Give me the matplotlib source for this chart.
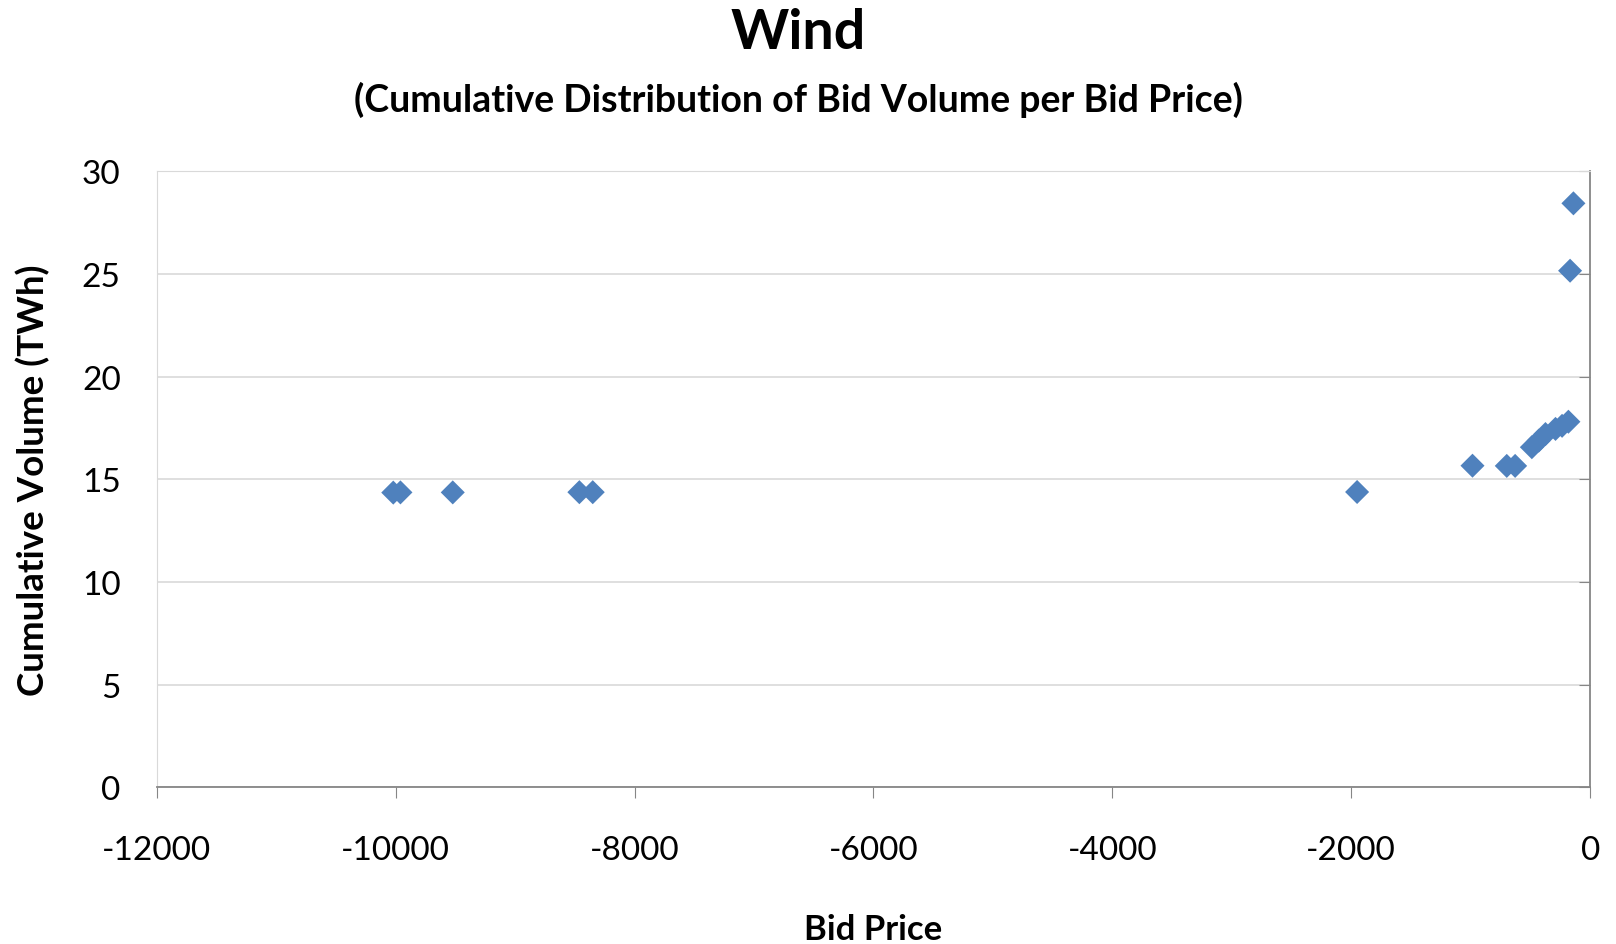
import matplotlib.pyplot as plt

plt.rcParams['font.family'] = ['Lato', 'DejaVu Sans']
plt.rcParams['axes.unicode_minus'] = False

# bid price vs cumulative volume (TWh)
bid_price = [-10020, -9960, -9522, -8462, -8350, -1951, -985, -698, -628,
             -488, -430, -374, -290, -235, -182, -168, -140]
cum_volume = [14.35, 14.36, 14.36, 14.37, 14.37, 14.38, 15.66, 15.65, 15.65,
              16.56, 16.88, 17.2, 17.45, 17.6, 17.8, 25.15, 28.43]

x_ticks = [-12000, -10000, -8000, -6000, -4000, -2000, 0]
y_ticks = [0, 5, 10, 15, 20, 25, 30]

fig = plt.figure(figsize=(16.16, 9.45), dpi=100)
ax = fig.add_axes([0.097, 0.1657, 0.887, 0.6522])

ax.scatter(bid_price, cum_volume, marker='D', s=150, color='#4f81bd',
           edgecolors='none', zorder=3)

ax.set_xlim(-12000, 0)
ax.set_ylim(0, 30)
ax.set_xticks(x_ticks)
ax.set_yticks(y_ticks)
ax.grid(axis='y', color='#d9d9d9', linewidth=1.2)
ax.set_axisbelow(True)

for side in ['left', 'top']:
    ax.spines[side].set_color('#d9d9d9')
for side in ['right', 'bottom']:
    ax.spines[side].set_color('#868686')
    ax.spines[side].set_linewidth(1.3)

ax.tick_params(axis='y', left=False, right=True, labelleft=True, labelright=False,
               direction='in', length=8, color='#868686', labelsize=24, pad=26)
ax.tick_params(axis='x', direction='out', length=8, color='#868686',
               labelsize=24, pad=26)

ax.set_xlabel('Bid Price', fontsize=25, fontweight='bold', labelpad=35)
ax.set_ylabel('Cumulative Volume (TWh)', fontsize=26.5, fontweight='bold', labelpad=23)

fig.text(0.494, 0.965, 'Wind', ha='center', va='center', fontsize=40, fontweight='bold')
fig.text(0.494, 0.894, '(Cumulative Distribution of Bid Volume per Bid Price)',
         ha='center', va='center', fontsize=27, fontweight='bold')

plt.savefig('out.png', dpi=100)
plt.close()
